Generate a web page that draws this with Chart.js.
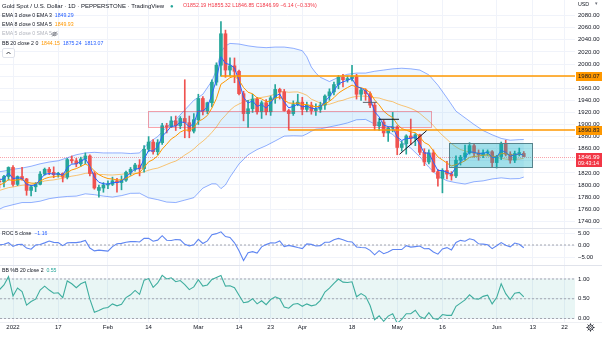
<!DOCTYPE html>
<html>
<head>
<meta charset="utf-8">
<title>Gold Spot / U.S. Dollar · 1D</title>
<script src="https://cdn.jsdelivr.net/npm/chart.js@4.4.0/dist/chart.umd.min.js"></script>
<style>
  html, body { margin: 0; padding: 0; background: #ffffff; }
  #frame { position: relative; width: 602px; height: 338px; overflow: hidden;
           font-family: "Liberation Sans", Arial, sans-serif; color: #131722; }
  #frame canvas { position: absolute; left: 0; }
  .rule { position: absolute; left: 0; width: 602px; height: 1px; background: #e0e3eb; }
  .txt { position: absolute; white-space: nowrap; line-height: 1; }
  .btn { position: absolute; left: 2px; top: 48px; width: 11px; height: 8px;
         border: 1px solid #e0e3eb; border-radius: 2px; background: #fff; }
</style>
</head>
<body>
<div id="frame">
  <canvas id="pricePane" width="602" height="228" style="top:0;width:602px;height:228px"></canvas>
  <canvas id="rocPane" width="602" height="36" style="top:229px;width:602px;height:36px"></canvas>
  <canvas id="pbPane" width="602" height="72" style="top:266px;width:602px;height:72px"></canvas>
  <div class="rule" style="top:228px"></div>
  <div class="rule" style="top:265px"></div>
  <div class="rule" style="top:322px;background:#eef0f4"></div>

  <div class="txt" style="left:2px;top:3px;font-size:6px">Gold Spot / U.S. Dollar · 1D · PEPPERSTONE · TradingView</div>
  <div class="txt" style="left:170px;top:2.6px;font-size:6px;color:#26a69a">●</div>
  <div class="txt" id="ohlc" style="left:183px;top:3.4px;font-size:5.3px;color:#f23645"></div>
  <div class="txt" id="lgEma3" style="left:2px;top:13.2px;font-size:5.2px"></div>
  <div class="txt" id="lgEma8" style="left:2px;top:22.4px;font-size:5.2px"></div>
  <div class="txt" style="left:2px;top:31.4px;font-size:5.2px;color:#b2b5be">EMA 5 close 0 SMA 5</div>
  <svg style="position:absolute;left:51px;top:31px" width="7" height="6" viewBox="0 0 14 12">
    <path d="M1 6 Q7 -1 13 6 Q7 13 1 6 Z" fill="none" stroke="#6a6d78" stroke-width="1.4"/>
    <circle cx="7" cy="6" r="2" fill="none" stroke="#6a6d78" stroke-width="1.4"/>
    <line x1="2" y1="11" x2="12" y2="1" stroke="#6a6d78" stroke-width="1.4"/>
  </svg>
  <div class="txt" id="lgBB" style="left:2px;top:41.1px;font-size:5.2px"></div>
  <div class="btn">
    <svg style="position:absolute;left:3px;top:2px" width="5" height="4" viewBox="0 0 10 8">
      <polyline points="1,6 5,2 9,6" fill="none" stroke="#131722" stroke-width="1.6"/>
    </svg>
  </div>
  <div class="txt" style="left:578px;top:1.6px;font-size:5.3px;color:#131722">USD</div>
  <div class="txt" style="left:595px;top:1.4px;font-size:5px;color:#6a6d78">▾</div>

  <div class="txt" id="lgRoc" style="left:2px;top:230.6px;font-size:5.2px"></div>
  <div class="txt" id="lgPb" style="left:2px;top:267.6px;font-size:5.2px"></div>

  <svg style="position:absolute;left:586px;top:323px" width="9" height="9" viewBox="0 0 18 18">
    <circle cx="9" cy="9" r="5.2" fill="none" stroke="#131722" stroke-width="1.6"/>
    <circle cx="9" cy="9" r="2" fill="none" stroke="#131722" stroke-width="1.4"/>
    <g stroke="#131722" stroke-width="2">
      <line x1="9" y1="1" x2="9" y2="3.6"/><line x1="9" y1="14.4" x2="9" y2="17"/>
      <line x1="1" y1="9" x2="3.6" y2="9"/><line x1="14.4" y1="9" x2="17" y2="9"/>
      <line x1="3.3" y1="3.3" x2="5.2" y2="5.2"/><line x1="12.8" y1="12.8" x2="14.7" y2="14.7"/>
      <line x1="3.3" y1="14.7" x2="5.2" y2="12.8"/><line x1="12.8" y1="5.2" x2="14.7" y2="3.3"/>
    </g>
  </svg>
</div>

<script>
// Daily sessions; bar 0 is 3 Jan 2022, the first visible bar is 29 Dec 2021.
const firstBar = -3;

const opens = [
  1806,1805,1814,1829,1801,1814,1810,1791,1797,1801,
  1818,1826,1821,1817,1819,1813,1842,1840,1835,1843,
  1848,1819,1791,1795,1800,1801,1807,1804,1808,1821,
  1826,1833,1827,1859,1871,1855,1870,1898,1896,1906,
  1898,1910,1903,1889,1908,1943,1922,1936,1970,1998,
  2050,1990,1997,1988,1951,1918,1926,1942,1921,1936,
  1921,1944,1958,1954,1923,1918,1933,1937,1925,1932,
  1923,1925,1932,1947,1954,1966,1978,1974,1976,1979,
  1950,1957,1951,1932,1898,1904,1886,1894,1896,1862,
  1868,1881,1877,1883,1854,1838,1853,1822,1811,1824,
  1818,1815,1841,1846,1853,1865,1853,1850,1853,1855,
  1837,1847,1869,1851,1841,1852,1852.19
];
const highs = [
  1811,1816,1830,1832,1815,1829,1811,1799,1804,1822,
  1828,1829,1830,1821,1820,1844,1848,1844,1846,1853,
  1850,1822,1800,1804,1807,1813,1811,1815,1823,1829,
  1836,1842,1865,1880,1875,1875,1902,1902,1913,1914,
  1913,1974,1914,1918,1950,1946,1937,1974,2002,2070,
  2056,2010,2010,1990,1955,1940,1950,1945,1939,1941,
  1947,1966,1960,1958,1925,1939,1950,1945,1937,1937,
  1934,1937,1949,1959,1970,1981,1983,1980,1998,1983,
  1960,1959,1954,1936,1910,1907,1896,1920,1898,1872,
  1883,1909,1885,1884,1860,1858,1858,1826,1827,1839,
  1822,1848,1849,1866,1870,1869,1858,1858,1858,1857,
  1849,1871,1874,1855,1856,1861,1855.32
];
const lows = [
  1795,1797,1808,1798,1799,1808,1783,1782,1789,1800,
  1816,1817,1812,1813,1805,1810,1836,1830,1831,1835,
  1815,1793,1780,1788,1794,1799,1788,1792,1806,1816,
  1823,1815,1821,1855,1851,1850,1867,1886,1895,1890,
  1893,1878,1878,1886,1900,1916,1918,1929,1965,1980.07,
  1978,1981,1969,1949,1906,1895,1920,1917,1910,1916,
  1915,1935,1942,1922,1890.83,1915,1931,1916,1921,1917,
  1915,1920,1925,1940,1949,1959,1962,1970,1972,1942,
  1940,1940,1928,1891,1890,1880,1872,1888,1850,1856,
  1851,1867,1865,1850,1832,1835,1821,1798,1787,1810,
  1808,1812,1833,1841,1851,1846,1841,1845,1849,1830,
  1828,1842,1848,1836,1837,1848,1846.85
];
const closes = [
  1805,1814,1829,1801,1814,1810,1791,1797,1801,1818,
  1826,1821,1817,1819,1813,1842,1840,1835,1843,1848,
  1819,1795,1796,1800,1801,1807,1804,1808,1821,1826,
  1833,1827,1859,1871,1855,1870,1898,1896,1906,1898,
  1910,1903,1889,1908,1943,1922,1936,1970,1998,2050,
  1990,1997,1988,1951,1918,1926,1942,1921,1936,1921,
  1944,1958,1954,1923,1918,1933,1937,1925,1932,1923,
  1925,1932,1947,1954,1966,1978,1974,1976,1979,1950,
  1957,1951,1932,1898,1904,1886,1894,1896,1862,1868,
  1881,1877,1883,1854,1838,1853,1822,1811,1824,1818,
  1815,1841,1846,1853,1865,1853,1850,1853,1855,1837,
  1847,1869,1851,1841,1852,1853.13,1846.99
];

// EMA 3 (blue) and EMA 8 (orange), one value per bar
const ema3 = [
  1808,1811,1820,1810.5,1812,1811,1801,1799,1800,1809,
  1817.5,1819,1818,1818.5,1816,1829,1834.5,1835,1839,1843.5,
  1831,1813,1804.5,1802,1801.5,1804,1804,1806,1813.5,1820,
  1826.5,1827,1843,1857,1856,1863,1880.5,1888,1897,1897.5,
  1904,1903.5,1896,1902,1922.5,1922,1929,1949.5,1974,2012,
  2001,1999,1993.5,1972,1945,1935.5,1939,1930,1933,1927,
  1935.5,1947,1950.5,1937,1927.5,1930,1933.5,1929,1930.5,1927,
  1926,1929,1938,1946,1956,1967,1970.5,1973,1976,1963,
  1960,1955.5,1944,1921,1912.5,1899,1896.5,1896,1879,1873.5,
  1877,1877,1880,1867,1852.5,1853,1837.5,1824,1824,1821,
  1818,1829.5,1838,1845.5,1855,1854,1852,1852.5,1854,1845.5,
  1846,1857.5,1854,1847.5,1850,1851.5,1849.29
];
const ema8 = [
  1800,1803.1,1808.9,1807.1,1808.6,1808.9,1804.9,1803.2,1802.7,1806.1,
  1810.5,1812.8,1813.7,1814.9,1814.5,1820.6,1824.9,1827.1,1830.6,1834.5,
  1831.1,1823.1,1817.1,1813.3,1810.6,1809.8,1808.5,1808.4,1811.2,1814.5,
  1818.6,1820.5,1829,1838.3,1842,1848.2,1859.3,1867.4,1876,1880.9,
  1887.4,1890.9,1890.5,1894.4,1905.2,1908.9,1914.9,1927.1,1942.8,1966.6,
  1971.8,1977.4,1979.8,1973.4,1961.1,1953.3,1950.8,1944.2,1942.4,1937.6,
  1939,1943.2,1945.6,1940.6,1935.6,1935,1935.4,1933.1,1932.9,1930.7,
  1929.4,1930,1933.8,1938.3,1944.4,1951.9,1956.8,1961.1,1965.1,1961.7,
  1960.7,1958.5,1952.6,1940.5,1932.4,1922.1,1915.9,1911.5,1900.5,1893.3,
  1890.6,1887.6,1886.6,1879.4,1870.2,1866.4,1856.5,1846.4,1841.4,1836.2,
  1831.5,1833.6,1836.4,1840.1,1845.6,1847.2,1847.8,1849,1850.3,1847.3,
  1847.2,1852,1851.8,1849.4,1850,1850.7,1849.93
];

// Bollinger Bands (20, 2): basis per bar, envelope on a coarser bar grid
const bbBasis = [
  1791,1793.3,1795.6,1796.7,1798.2,1799.5,1800.3,1801,1801.8,1804.1,
  1806.6,1807.7,1808.4,1809.8,1811,1813,1814.6,1815.8,1817.3,1819.2,
  1819.9,1819,1817.3,1817.3,1816.6,1816.5,1817.1,1817.7,1818.7,1819.1,
  1819.4,1819.7,1821.8,1824.4,1826.5,1827.9,1830.8,1833.9,1837,1839.5,
  1844,1849.5,1854.1,1859.5,1866.6,1872.4,1879,1887,1895.9,1907.1,
  1915,1923.5,1929.9,1933.9,1937.1,1939.9,1942,1943.3,1944.8,1946,
  1947.7,1950.4,1953.7,1954.4,1953.2,1953.7,1953.8,1951.5,1948.2,1941.9,
  1938.6,1935.4,1933.3,1933.5,1935.9,1938.5,1940.1,1942.8,1945,1946.4,
  1947.1,1946.7,1945.6,1944.4,1943.7,1941.3,1939.2,1937.7,1934.2,1931.5,
  1929.3,1926.5,1923.3,1918.3,1911.9,1905.7,1898.1,1889.8,1882.1,1875.5,
  1868.4,1862.9,1858.6,1856.3,1854.4,1852.7,1850.5,1848.4,1848,1846.5,
  1844.8,1844.4,1842.8,1842.1,1842.8,1842.8,1844.15
];
const bandBars = [-3,-2,0,2,4,6,8,10,12,14,16,18,20,22,24,26,28,30,32,34,36,38,40,42,44,45,46,47,48,50,
  52,54,56,58,60,62,64,65,66,67,68,70,72,74,76,78,80,82,84,86,88,90,92,94,96,98,100,102,104,106,108,110,112,113];
const bbUpper = [1822,1823,1826,1828,1831,1835,1838,1840,1845,1850,1853,1854,1853,1853,1853,1852,1853,1870,1880,1896,
  1908,1924,1940,1950,1972,1990,2020,2030,2034,2033,2030,2028,2027,2028,2028,2026,2022,2012,1995,1985,
  1978,1971,1978,1983,1985,1985,1988,1990,1992,1993,1992,1990,1982,1965,1944,1922,1911,1900,1890,1883,
  1877,1874,1875,1875.24];
const bbLower = [1760,1763.6,1767.4,1771,1771,1773.2,1777.4,1779.6,1781,1781.6,1785.4,1784,1781.6,1780,1782.4,1786.2,1786.4,1778.8,1775.8,1771.8,
  1771,1775,1779,1794.8,1802,1801.8,1794,1800,1813,1834.8,1849.8,1858.6,1865,1872.8,1880.8,1881.4,1881,1884.4,1888.8,1892.2,
  1892.8,1896,1899,1902.6,1907.8,1908.4,1900.8,1892.6,1883.4,1870,1861,1846.6,1829.4,1814.6,1807,1803.8,1801.6,1805.4,1806.8,1810,
  1811.8,1810.2,1810.6,1813.07];

// Rate of change (5) in percent, and Bollinger %B (20, 2), one value per bar
const roc5 = [
  0.11,0.33,1.0,-0.61,0.22,0.28,-1.27,-1.76,0,0.22,
  0.89,1.67,1.11,1.0,-0.27,0.88,1.04,0.99,1.32,1.93,
  -1.26,-2.46,-2.13,-2.35,-2.56,-0.66,0.5,0.67,1.17,1.39,
  1.44,1.28,2.83,2.76,1.59,2.03,3.88,2.0,1.88,2.32,
  2.14,0.26,-0.37,0.1,2.36,0.63,1.73,4.29,4.73,5.5,
  3.53,3.16,0.91,-2.35,-6.44,-3.2,-2.75,-3.36,-0.77,0.16,
  0.93,0.83,1.72,-0.67,-0.16,-0.56,-1.07,-1.48,0.47,0.26,
  -0.41,-0.26,1.14,1.14,2.23,2.75,2.17,1.49,1.28,-0.81,
  -1.06,-1.16,-2.23,-4.1,-2.34,-3.61,-2.91,-1.85,-1.88,-1.89,
  -0.26,-0.89,-0.68,-0.43,-1.58,-1.48,-2.9,-3.8,-1.61,-1.08,
  -2.04,1.04,1.93,1.59,2.58,2.09,0.49,0.38,0.11,-1.51,
  -0.32,1.03,-0.11,-0.76,0.81,0.32,-1.16
];
const percentB = [
  0.73,0.85,1.06,0.57,0.77,0.68,0.34,0.43,0.49,0.72,
  0.82,0.72,0.64,0.65,0.53,0.95,0.88,0.78,0.88,0.93,
  0.49,0.16,0.2,0.26,0.28,0.37,0.32,0.36,0.53,0.6,
  0.71,0.61,0.97,1.01,0.79,0.9,1.09,1.0,1.03,0.93,
  0.96,0.86,0.73,0.8,0.98,0.82,0.85,0.99,1.04,1.09,
  0.82,0.83,0.78,0.59,0.4,0.42,0.5,0.37,0.45,0.35,
  0.48,0.55,0.5,0.29,0.26,0.36,0.38,0.31,0.37,0.32,
  0.35,0.46,0.67,0.77,0.89,1.0,0.92,0.91,0.93,0.55,
  0.63,0.56,0.33,-0.03,0.07,-0.07,0.06,0.12,-0.12,-0.02,
  0.12,0.12,0.21,0.05,0.0,0.15,0.0,-0.02,0.1,0.08,
  0.08,0.31,0.39,0.47,0.6,0.5,0.49,0.56,0.59,0.37,
  0.53,0.88,0.63,0.48,0.64,0.66,0.55
];

// Time axis labels (bar index -> text) and value axis ticks
const timeTickBars = [0, 10, 21, 30, 41, 50, 57, 64, 75, 85, 95, 107, 115, 122];
const timeTickText = ['2022', '17', 'Feb', '14', 'Mar', '14', '23', 'Apr', '18', 'May', '16', 'Jun', '13', '22'];
const priceTicks = [1740,1760,1780,1800,1820,1840,1860,1880,1900,1920,1940,1960,1980,2000,2020,2040,2060,2080];
const rocTicks = [-5, 0, 5];
const pbTicks = [0, 0.5, 1];

// Chart drawings: horizontal rays, zones and trend segments (bar index / price)
const rayLevels = [1980.07, 1890.83];
const rayFromBar = [46, 61];
const zoneFromBar = [29.9, 96.5];
const zoneToBar = [92.6, 114.9];
const zoneHigh = [1922.3, 1869.4];
const zoneLow = [1895.9, 1829.7];
const segFromBar = [77.4, 81, 85.5];
const segToBar = [80.5, 85.4, 91.5];
const segFromPrice = [1936.6, 1908.6, 1850.7];
const segToPrice = [1936.6, 1908.6, 1889.8];

// ---------------------------------------------------------------------------
const UP = '#26a69a', DOWN = '#ef5350';
const X_MIN = -2.88, X_MAX = 124.33;
const barX = closes.map((_, i) => firstBar + i);
const lastIdx = closes.length - 1;
const minus = v => (v < 0 ? '\u2212' : '') + Math.abs(v).toFixed(2);

Chart.defaults.font.family = '"Liberation Sans", Arial, sans-serif';
Chart.defaults.font.size = 6;
Chart.defaults.color = '#131722';

function timeAxis(withLabels) {
  return {
    type: 'linear', min: X_MIN, max: X_MAX, offset: false, bounds: 'data',
    afterBuildTicks: s => { s.ticks = timeTickBars.map(v => ({ value: v })); },
    ticks: { display: withLabels, autoSkip: false, maxRotation: 0, minRotation: 0, padding: 2,
             color: '#131722', font: { size: 6 },
             callback: v => { const k = timeTickBars.indexOf(v); return k >= 0 ? timeTickText[k] : ''; } },
    grid: { color: '#f0f3fa', drawTicks: false, offset: false },
    border: { display: false },
    afterFit: s => { s.height = withLabels ? 16 : 0; s.paddingLeft = 0; s.paddingRight = 0; }
  };
}
function valueAxis(min, max, ticks, fmt) {
  return {
    type: 'linear', position: 'right', min, max, beginAtZero: false, bounds: 'data',
    afterBuildTicks: s => { s.ticks = ticks.map(v => ({ value: v })); },
    ticks: { autoSkip: false, padding: 3, color: '#131722', font: { size: 6 }, callback: fmt },
    grid: { color: '#f0f3fa', drawTicks: false },
    border: { display: false },
    afterFit: s => { s.width = 27; s.paddingTop = 0; s.paddingBottom = 0; }
  };
}
function series(values, xs, color, extra) {
  return Object.assign({
    type: 'line', data: values.map((v, i) => ({ x: xs[i], y: v })),
    borderColor: color, borderWidth: 1, pointRadius: 0, tension: 0, fill: false
  }, extra || {});
}
function flat(value, color) {
  return series([value, value], [X_MIN, X_MAX], color, { borderDash: [2, 2], order: 3 });
}
const base = {
  responsive: false, animation: false, events: [],
  layout: { padding: 0 },
  plugins: { legend: { display: false }, tooltip: { enabled: false } }
};
const candleColor = i => (closes[i] >= opens[i] ? UP : DOWN);

// Drawings and price-scale labels of the price pane
const pricePaneExtras = {
  id: 'pricePaneExtras',
  beforeDatasetsDraw(chart) {
    const { ctx, chartArea: a, scales: { y } } = chart;
    const py = Math.round(y.getPixelForValue(closes[lastIdx])) + 0.5;
    ctx.save();
    ctx.strokeStyle = 'rgba(242,54,69,0.45)';
    ctx.lineWidth = 1;
    ctx.setLineDash([1, 1]);
    ctx.beginPath(); ctx.moveTo(a.left, py); ctx.lineTo(a.right, py); ctx.stroke();
    ctx.restore();
  },
  afterDatasetsDraw(chart) {
    const { ctx, chartArea: a, scales: { x, y } } = chart;
    ctx.save();
    ctx.beginPath(); ctx.rect(a.left, a.top, a.right - a.left, a.bottom - a.top); ctx.clip();
    const zoneFill = ['rgba(33,150,243,0.08)', 'rgba(0,172,193,0.33)'];
    const zoneEdge = ['rgba(242,54,69,0.45)', '#56838c'];
    zoneFromBar.forEach((f, k) => {
      const x1 = x.getPixelForValue(f), x2 = x.getPixelForValue(zoneToBar[k]);
      const y1 = y.getPixelForValue(zoneHigh[k]), y2 = y.getPixelForValue(zoneLow[k]);
      ctx.fillStyle = zoneFill[k];
      ctx.fillRect(x1, y1, x2 - x1, y2 - y1);
      ctx.strokeStyle = zoneEdge[k];
      ctx.lineWidth = 1;
      ctx.strokeRect(Math.round(x1) + 0.5, Math.round(y1) + 0.5, Math.round(x2 - x1), Math.round(y2 - y1));
    });
    rayLevels.forEach((lv, k) => {
      const py = y.getPixelForValue(lv);
      ctx.strokeStyle = '#ff9800';
      ctx.lineWidth = 1.5;
      ctx.beginPath(); ctx.moveTo(x.getPixelForValue(rayFromBar[k]), py); ctx.lineTo(a.right, py); ctx.stroke();
    });
    const segColor = ['#5d606b', '#131722', '#131722'];
    segFromBar.forEach((f, k) => {
      ctx.strokeStyle = segColor[k];
      ctx.lineWidth = 1;
      ctx.beginPath();
      ctx.moveTo(x.getPixelForValue(f), y.getPixelForValue(segFromPrice[k]));
      ctx.lineTo(x.getPixelForValue(segToBar[k]), y.getPixelForValue(segToPrice[k]));
      ctx.stroke();
    });
    ctx.restore();
  },
  afterDraw(chart) {
    const { ctx, chartArea: a, scales: { y }, width } = chart;
    ctx.save();
    ctx.font = '6px "Liberation Sans", Arial, sans-serif';
    ctx.textBaseline = 'middle';
    rayLevels.forEach(lv => {
      const py = y.getPixelForValue(lv);
      ctx.fillStyle = '#ff9800';
      ctx.fillRect(a.right + 1, Math.round(py) - 4, width - a.right - 1, 9);
      ctx.fillStyle = '#131722';
      ctx.fillText(lv.toFixed(2), a.right + 3, Math.round(py) + 0.5);
    });
    const py = Math.round(y.getPixelForValue(closes[lastIdx]));
    ctx.fillStyle = '#f23645';
    ctx.fillRect(a.right + 1, py - 4, width - a.right - 1, 14);
    ctx.fillStyle = '#ffffff';
    ctx.fillText(closes[lastIdx].toFixed(2), a.right + 3, py + 0.5);
    ctx.font = '5.4px "Liberation Sans", Arial, sans-serif';
    ctx.fillText('09:43:14', a.right + 3, py + 6.5);
    ctx.restore();
  }
};

new Chart(document.getElementById('pricePane'), {
  type: 'bar',
  data: {
    datasets: [
      series(bbUpper, bandBars, 'rgba(41,98,255,0.5)', { fill: '+1', backgroundColor: 'rgba(33,150,243,0.08)', order: 7 }),
      series(bbLower, bandBars, 'rgba(41,98,255,0.5)', { order: 7 }),
      series(bbBasis, barX, 'rgba(255,152,0,0.55)', { order: 6 }),
      { type: 'bar', data: barX.map((x, i) => ({ x, y: [lows[i], highs[i]] })),
        backgroundColor: c => candleColor(c.dataIndex), barThickness: 1, grouped: false, borderWidth: 0, order: 5 },
      { type: 'bar', data: barX.map((x, i) => ({ x, y: [opens[i], closes[i]] })),
        backgroundColor: c => candleColor(c.dataIndex), barThickness: 3, grouped: false, borderWidth: 0,
        minBarLength: 1, order: 4 },
      series(ema8, barX, '#ff9800', { order: 2 }),
      series(ema3, barX, '#2962ff', { order: 1 })
    ]
  },
  options: Object.assign({}, base, {
    indexAxis: 'x',
    scales: {
      x: timeAxis(false),
      y: valueAxis(1728.9, 2105.8, priceTicks, v => v.toFixed(2))
    }
  }),
  plugins: [pricePaneExtras]
});

new Chart(document.getElementById('rocPane'), {
  type: 'line',
  data: {
    datasets: [
      flat(0, '#a3a6af'),
      series(roc5, barX, '#5f86f2', { order: 1, borderWidth: 1.1 })
    ]
  },
  options: Object.assign({}, base, {
    scales: {
      x: timeAxis(false),
      y: valueAxis(-8.33, 6.67, rocTicks, minus)
    }
  })
});

new Chart(document.getElementById('pbPane'), {
  type: 'line',
  data: {
    datasets: [
      series([1, 1], [X_MIN, X_MAX], 'rgba(0,0,0,0)',
             { borderWidth: 0, fill: { value: 0 }, backgroundColor: 'rgba(38,166,154,0.1)', order: 4 }),
      flat(1, '#a3a6af'),
      flat(0.5, '#a3a6af'),
      flat(0, '#a3a6af'),
      series(percentB, barX, '#3fae9f', { order: 1, borderWidth: 1.1 })
    ]
  },
  options: Object.assign({}, base, {
    scales: {
      x: timeAxis(true),
      y: valueAxis(-0.0886, 1.329, pbTicks, v => v.toFixed(2))
    }
  })
});

const chg = closes[lastIdx] - closes[lastIdx - 1];
const pct = chg / closes[lastIdx - 1] * 100;
document.getElementById('ohlc').textContent =
  'O' + opens[lastIdx].toFixed(2) + ' H' + highs[lastIdx].toFixed(2) +
  ' L' + lows[lastIdx].toFixed(2) + ' C' + closes[lastIdx].toFixed(2) +
  ' ' + minus(chg) + ' (' + minus(pct) + '%)';
const tag = (t, c) => '<span style="color:' + c + '">' + t + '</span>';
document.getElementById('lgEma3').innerHTML =
  'EMA 3 close 0 EMA 3&nbsp; ' + tag(ema3[lastIdx].toFixed(2), '#2962ff');
document.getElementById('lgEma8').innerHTML =
  'EMA 8 close 0 SMA 5&nbsp; ' + tag(ema8[lastIdx].toFixed(2), '#ff9800');
document.getElementById('lgBB').innerHTML =
  'BB 20 close 2 0&nbsp; ' + tag(bbBasis[lastIdx].toFixed(2), '#ff9800') + '&nbsp; ' +
  tag(bbUpper[bbUpper.length - 1].toFixed(2), '#2962ff') + '&nbsp; ' +
  tag(bbLower[bbLower.length - 1].toFixed(2), '#2962ff');
document.getElementById('lgRoc').innerHTML =
  'ROC 5 close&nbsp; ' + tag(minus(roc5[lastIdx]), '#2962ff');
document.getElementById('lgPb').innerHTML =
  'BB %B 20 close 2&nbsp; ' + tag(percentB[lastIdx].toFixed(2), '#26a69a');
</script>
</body>
</html>
